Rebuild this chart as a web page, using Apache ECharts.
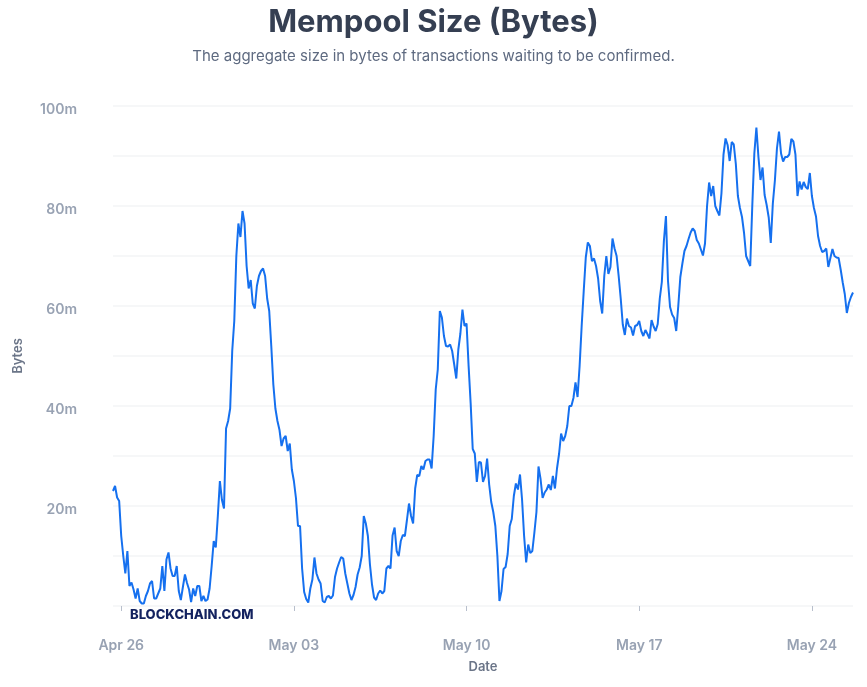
<!DOCTYPE html>
<html>
<head>
<meta charset="utf-8">
<script src="https://cdn.jsdelivr.net/npm/echarts@6/dist/echarts.min.js"></script>
<style>
html,body{margin:0;padding:0;background:#fff;}
#chart{width:867px;height:687px;}
</style>
</head>
<body>
<div id="chart"></div>
<script>
// Mempool size in millions of bytes, sampled every 2 hours starting Apr 25 16:00
const startDay = -1 / 3;        // days relative to Apr 26 00:00
const stepDays = 1 / 12;        // 2 hours
const mempoolM = [
  23, 24, 21.7, 21, 14, 10, 6.5, 11, 4, 4.7,
  3.3, 1.5, 3.5, 1, 0.5, 0.5, 2, 3, 4.5, 5,
  1.5, 1.5, 2.5, 3.5, 8, 3, 9.3, 10.7, 7.5, 6,
  6, 8, 3, 1.2, 3.8, 6.3, 4.6, 3.3, 0.8, 3.5,
  2, 4, 4, 1, 2, 1, 1.3, 3.5, 8, 13,
  11.7, 18, 25, 21.2, 19.5, 35.5, 37, 39.5, 51, 57,
  70, 76.5, 73.8, 79, 76.5, 68, 63.5, 65.2, 60.5, 59.5,
  64, 66, 67, 67.5, 66,
  61.5, 59, 52, 44.3, 39.5, 37, 35.2, 32, 33.5, 34,
  31, 32.5, 27.3, 25, 21.6, 16, 16, 7.5, 2.8, 1.4,
  0.7, 3.5, 5.3, 9.7, 6.5, 5.3, 4.5, 1, 0.7, 1.8,
  2, 1.5, 2.1, 5.8, 7.5, 8.7, 9.8, 9.5, 6.5, 4.5,
  2.5, 1.2, 2.2, 3.8, 6.3, 7.7, 10, 18, 16.5, 14,
  8.3, 4.3, 1.7, 1.2, 2.5, 3.1, 2.5, 3, 7.5, 8,
  7.5, 14.1, 15.7, 11, 10, 13, 14.2, 14, 17.2, 20.5,
  18,
  16.5, 23.5, 26.2, 26, 28, 27.3, 29, 29.3, 29.3, 27.5,
  34, 43.3, 47.3, 59, 57.7, 54, 52, 51.9, 52.3, 51,
  48.3, 45.5, 51.3, 54.5, 59.3, 56, 56.5, 48, 40.5, 31.4,
  30.5, 24.8, 28.8, 28.7, 24.8, 26, 29.5, 24.3, 20.8, 18.8,
  16, 10, 1, 3, 7.4, 7.8, 10.4, 16, 17.4, 22,
  24.5, 23.3, 26.3, 21.3, 14, 8.7, 12.3, 10.6, 11, 14.7,
  18.8, 27.9, 25.4, 21.6, 22.7, 23.3, 24.3, 23.2, 26, 23.5,
  27.5, 30.4, 34.5, 33,
  34, 36, 40, 40, 41.6, 44.7, 41.8, 48, 56, 63,
  69.7, 72.7, 72, 69, 69.5, 68, 65.5, 61, 58.5, 66,
  70, 66.4, 67.8, 73.5, 71.5, 70, 66, 61.5, 56.3, 54.2,
  57.5, 56, 55.7, 54.1, 56, 56.2, 57, 55, 54, 55.2,
  54.4, 53.5, 57.2, 55.9, 55, 56.4, 61.5, 64.8, 73, 78,
  65, 59.8, 58.3, 57.6, 55, 60, 65.8, 68.5, 71, 72,
  73.4, 74.7, 75.5, 75, 73.2, 72.5, 71.3, 70.1,
  72.5, 80, 84.7, 82, 84, 80, 79, 78.1, 82.5, 90.3,
  93.5, 92.2, 89, 92.8, 92.3, 88.4, 82, 79.6, 77.8, 74.6,
  70, 69, 68, 80, 90.5, 95.7, 89.8, 85.2, 87.7, 82.2,
  80.2, 77.7, 72.6, 80.5, 85.1, 91.5, 94.9, 90.5, 88.9, 89.8,
  89.8, 90.3, 93.4, 92.9, 90.3, 82, 84.9, 83.3, 84.8, 83.8,
  83.4, 86.6, 82, 79.6, 77.9, 74, 72, 70.8, 71, 71.5,
  67.8, 69.6, 71.4, 70, 69.7, 69.6, 67.3, 64.7, 62.4, 58.6,
  60.6, 61.8, 62.7
];
const tickDays = [0, 7, 14, 21, 28];
const tickLabels = ['Apr 26', 'May 03', 'May 10', 'May 17', 'May 24'];
const yLabelValues = [20, 40, 60, 80, 100];

const seriesData = mempoolM.map((v, i) => [startDay + i * stepDays, v]);
const xMin = startDay;
const xMax = startDay + (mempoolM.length - 1) * stepDays;

const chart = echarts.init(document.getElementById('chart'), null, {renderer: 'canvas'});
const fontFamily = 'Inter, "Noto Sans", sans-serif';
chart.setOption({
  animation: false,
  backgroundColor: '#ffffff',
  title: {
    text: 'Mempool Size (Bytes)',
    subtext: 'The aggregate size in bytes of transactions waiting to be confirmed.',
    left: 'center',
    top: 2,
    itemGap: 11,
    textStyle: {fontFamily, fontSize: 31, fontWeight: 700, color: '#353f52'},
    subtextStyle: {fontFamily, fontSize: 15, fontWeight: 400, color: '#5e6a80'}
  },
  grid: {left: 113, right: 14, top: 106, bottom: 81, containLabel: false},
  xAxis: {
    type: 'value',
    min: xMin,
    max: xMax,
    offset: 16,
    name: 'Date',
    nameLocation: 'middle',
    nameGap: 39,
    nameTextStyle: {fontFamily, fontSize: 13, fontWeight: 600, color: '#6b7588'},
    axisLine: {show: false},
    axisTick: {show: true, customValues: tickDays, length: 5, lineStyle: {color: '#b8bfcc', width: 1}},
    axisLabel: {
      customValues: tickDays,
      margin: 17,
      fontFamily, fontSize: 14, fontWeight: 600, color: '#98a2b3',
      formatter: (v) => tickLabels[tickDays.indexOf(Math.round(v))] || ''
    },
    splitLine: {show: false}
  },
  yAxis: {
    type: 'value',
    min: 0,
    max: 100,
    interval: 10,
    name: 'Bytes',
    nameLocation: 'middle',
    nameRotate: 90,
    nameGap: 88,
    nameTextStyle: {fontFamily, fontSize: 13, fontWeight: 600, color: '#6b7588'},
    axisLine: {show: false},
    axisTick: {show: false},
    axisLabel: {
      margin: 36,
      verticalAlign: 'top',
      lineHeight: 8,
      fontFamily, fontSize: 14, fontWeight: 600, color: '#98a2b3',
      formatter: (v) => yLabelValues.indexOf(v) >= 0 ? v + 'm' : ''
    },
    splitLine: {show: true, lineStyle: {color: '#f3f4f6', width: 1.5}}
  },
  graphic: [{
    type: 'text',
    left: 130,
    top: 609,
    style: {
      text: 'BLOCKCHAIN.COM',
      fontFamily: 'Inter, "Open Sans", sans-serif',
      fontSize: 13,
      fontWeight: 800,
      fill: '#13225f'
    }
  }],
  series: [{
    type: 'line',
    data: seriesData,
    showSymbol: false,
    smooth: false,
    lineStyle: {color: '#1570ef', width: 2},
    itemStyle: {color: '#1570ef'}
  }]
});
</script>
</body>
</html>
